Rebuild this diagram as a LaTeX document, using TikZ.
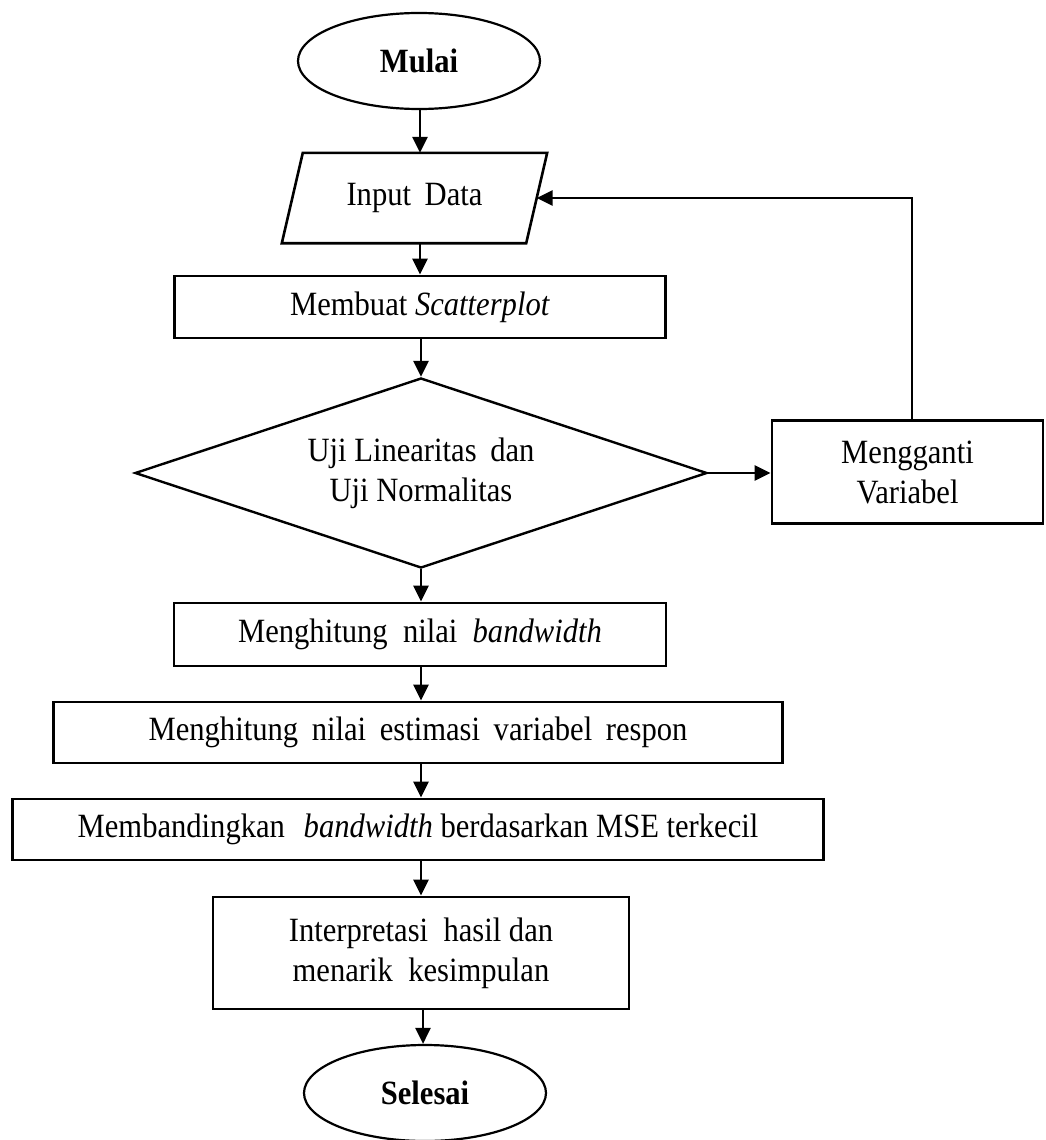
\documentclass[tikz,border=0pt]{standalone}
\usepackage{fontspec}
\setmainfont{Liberation Serif}[FakeStretch=0.9]
\usetikzlibrary{shapes.geometric,arrows.meta}
\begin{document}
\begin{tikzpicture}[x=1pt,y=-1pt,
  every node/.style={font=\fontsize{34}{40}\selectfont, inner sep=0pt, align=center},
  procbox/.style={draw, rectangle, line width=2.9pt},
  term/.style={draw, ellipse, line width=2.2pt, minimum width=242pt, minimum height=96pt},
  iobox/.style={rectangle, minimum width=244pt, minimum height=90pt},
  decbox/.style={draw, diamond, aspect=3, line width=2.4pt, minimum width=572pt, minimum height=190pt},
  arr/.style={line width=2.7pt, -{Triangle[length=16pt,width=15pt]}}
]
\useasboundingbox (0,0) rectangle (1046,1140);

\node[term] (mulai) at (419,61) {\textbf{Mulai}};
\node[iobox] (input) at (414.5,198) {Input\hspace{0.4em}Data};
\draw[line width=2.6pt] ([xshift=10.5pt]input.north west) -- ([xshift=10.5pt]input.north east)
   -- ([xshift=-10.5pt]input.south east) -- ([xshift=-10.5pt]input.south west) -- cycle;
\node[procbox, minimum width=491pt, minimum height=62pt] (scatter) at (420,307) {Membuat \textit{Scatterplot}};
\node[decbox] (uji) at (421,473) {Uji Linearitas\hspace{0.4em}dan\\Uji Normalitas};
\node[procbox, minimum width=271pt, minimum height=103pt] (ganti) at (907.5,472) {Mengganti\\Variabel};
\node[procbox, minimum width=492pt, minimum height=63pt] (bw) at (420,634.5) {Menghitung\hspace{0.45em}nilai\hspace{0.45em}\textit{bandwidth}};
\node[procbox, minimum width=729pt, minimum height=61pt] (est) at (418,732.5) {Menghitung\hspace{0.4em}nilai\hspace{0.4em}estimasi\hspace{0.4em}variabel\hspace{0.4em}respon};
\node[procbox, minimum width=811pt, minimum height=61pt] (banding) at (418,829.5) {Membandingkan\hspace{0.55em}\textit{bandwidth} berdasarkan MSE terkecil};
\node[procbox, minimum width=416pt, minimum height=112pt] (interp) at (421,953) {Interpretasi\hspace{0.45em}hasil dan\\menarik\hspace{0.45em}kesimpulan};
\node[term] (selesai) at (425,1093) {\textbf{Selesai}};

\draw[arr] (mulai.south -| 420,0) -- (input.north -| 420,0);
\draw[arr] (input.south -| 420,0) -- (scatter.north -| 420,0);
\draw[arr] (scatter.south -| 421,0) -- (uji.north);
\draw[arr] (uji.east) -- (uji.east -| ganti.west);
\draw[arr] (ganti.north -| 912,0) |- (input.east);
\draw[arr] (uji.south) -- (bw.north -| uji.south);
\draw[arr] (bw.south -| 421,0) -- (est.north -| 421,0);
\draw[arr] (est.south -| 421,0) -- (banding.north -| 421,0);
\draw[arr] (banding.south -| 421,0) -- (interp.north -| 421,0);
\draw[arr] (interp.south -| 423,0) -- (selesai.north -| 423,0);
\end{tikzpicture}
\end{document}
